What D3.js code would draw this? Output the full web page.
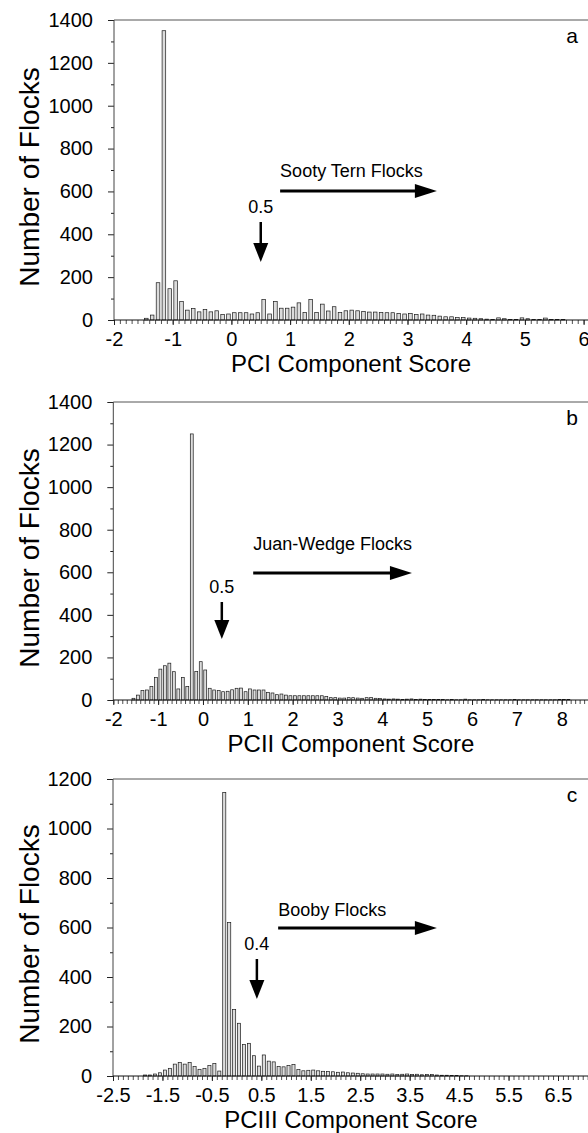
<!DOCTYPE html>
<html>
<head>
<meta charset="utf-8">
<script src="https://cdn.jsdelivr.net/npm/d3@7/dist/d3.min.js"></script>
<style>
  body { margin: 0; background: #fff; }
  svg { display: block; }
</style>
</head>
<body>
<div id="chart"></div>
<script>
// histogram data, bins are 0.1 wide; start = centre of the first bin
const binWidth = 0.1;

const aBinStart = -1.45;
const aCounts = [8, 23, 174, 1350, 146, 183, 86, 46, 54, 38, 49, 38, 43, 26, 28, 34, 34, 34, 28, 34,
    95, 28, 86, 55, 55, 60, 80, 35, 95, 35, 74, 42, 62, 35, 43, 46, 43, 40, 37, 37,
    35, 34, 34, 31, 28, 31, 26, 28, 23, 22, 18, 15, 15, 12, 11, 9, 8, 6, 4, 3,
    10, 6, 3, 3, 10, 6, 3, 3, 9, 3, 2, 2];

const bBinStart = -1.55;
const bCounts = [8, 23, 44, 47, 64, 106, 145, 161, 173, 133, 52, 106, 64, 1250, 134, 180, 141, 55, 47, 44,
    39, 41, 48, 55, 56, 39, 52, 47, 47, 47, 36, 33, 25, 28, 23, 20, 20, 20, 20, 20,
    20, 20, 20, 17, 11, 11, 9, 9, 11, 11, 9, 8, 11, 12, 8, 7, 5, 4, 5, 4,
    3, 4, 5, 3, 4, 3, 3, 2, 2, 2, 1, 2, 1, 1, 4, 1, 1, 1, 2, 1,
    1, 1, 1, 1, 1, 2, 1, 1, 1, 1, 1, 1, 1, 1, 1, 3, 3, 3];

const cBinStart = -1.85;
const cCounts = [4, 4, 8, 13, 24, 31, 48, 54, 48, 54, 38, 27, 31, 42, 50, 20, 1146, 620, 269, 213,
    127, 132, 82, 40, 85, 60, 57, 39, 37, 43, 47, 26, 21, 23, 24, 21, 19, 18, 17, 15,
    16, 13, 12, 11, 9, 8, 8, 8, 8, 7, 8, 6, 7, 8, 6, 7, 5, 6, 6, 4,
    3, 3, 2, 2, 1, 1];

const aXTicks = [-2, -1, 0, 1, 2, 3, 4, 5, 6];
const bXTicks = [-2, -1, 0, 1, 2, 3, 4, 5, 6, 7, 8];
const cXTicks = [-2.5, -1.5, -0.5, 0.5, 1.5, 2.5, 3.5, 4.5, 5.5, 6.5];
const abYTicks = [0, 200, 400, 600, 800, 1000, 1200, 1400];
const cYTicks = [0, 200, 400, 600, 800, 1000, 1200];

const titles = ["PCI Component Score", "PCII Component Score", "PCIII Component Score"];
const groupLabels = ["Sooty Tern Flocks", "Juan-Wedge Flocks", "Booby Flocks"];
const cutLabels = ["0.5", "0.5", "0.4"];
const cutPositions = [0.5, 0.42, 0.41];      // where the down arrows sit
const groupArrows = [[0.83, 3.5], [1.12, 4.66], [0.84, 4.05]];

const W = 588, H = 1133;
const font = "'Liberation Sans', Arial, Helvetica, sans-serif";

const svg = d3.select("#chart").append("svg")
    .attr("width", W)
    .attr("height", H)
    .style("font-family", font);

const panels = [
    {letter: "a", start: aBinStart, counts: aCounts, xDomain: [-2, 6], xRange: [114, 583.6],
     xTicks: aXTicks, yMax: 1400, yTicks: abYTicks, top: 20, bottom: 320, barW: 3.6,
     textY: 177, arrowY: 191, downTop: 222, downTip: 262, yTitle: 177},
    {letter: "b", start: bBinStart, counts: bCounts, xDomain: [-2, 8], xRange: [113.3, 561.7],
     xTicks: bXTicks, yMax: 1400, yTicks: abYTicks, top: 402, bottom: 700, barW: 2.9,
     textY: 550, arrowY: 573, downTop: 602, downTip: 639, yTitle: 558},
    {letter: "c", start: cBinStart, counts: cCounts, xDomain: [-2.5, 6.5], xRange: [113, 558],
     xTicks: cXTicks, yMax: 1200, yTicks: cYTicks, top: 779, bottom: 1076, barW: 3.1,
     textY: 916, arrowY: 928, downTop: 959, downTip: 999, yTitle: 934}
];

panels.forEach(function(p, i) {
    const g = svg.append("g").attr("class", "panel-" + p.letter);
    const x = d3.scaleLinear().domain(p.xDomain).range(p.xRange);
    const y = d3.scaleLinear().domain([0, p.yMax]).range([p.bottom, p.top]);
    const left = p.xRange[0];

    const bins = p.counts.map(function(c, k) {
        return {mid: p.start + k * binWidth, count: c};
    });

    // bars
    g.append("g").selectAll("rect")
        .data(bins.filter(function(d) { return d.count > 0; }))
        .join("rect")
        .attr("x", function(d) { return x(d.mid) - p.barW / 2; })
        .attr("width", p.barW)
        .attr("y", function(d) { return y(d.count); })
        .attr("height", function(d) { return p.bottom - y(d.count); })
        .attr("fill", "#dcdcdc")
        .attr("stroke", "#1a1a1a")
        .attr("stroke-width", 0.7);

    // minor x ticks every 0.1
    const lo = p.xDomain[0];
    const hi = x.invert(W);
    const minor = d3.range(Math.round(lo * 10), Math.floor(hi * 10) + 1).map(function(v) { return v / 10; });
    g.append("g")
        .attr("transform", `translate(0,${p.bottom})`)
        .call(d3.axisBottom(x).tickValues(minor).tickSize(4).tickFormat("").tickSizeOuter(0))
        .call(function(s) { s.select(".domain").remove(); })
        .selectAll("line").attr("stroke", "#222").attr("stroke-width", 0.8);

    // major x ticks + labels (plain hyphen minus like the original)
    const xa = g.append("g")
        .attr("transform", `translate(0,${p.bottom})`)
        .call(d3.axisBottom(x).tickValues(p.xTicks).tickSize(5).tickPadding(7)
            .tickFormat(function(d) { return String(d); }).tickSizeOuter(0));
    xa.select(".domain").remove();
    xa.selectAll("text").attr("font-size", 20).attr("font-family", font).attr("fill", "#000");
    xa.selectAll("line").attr("stroke", "#222");

    // y minor ticks at 100s
    const yMinor = d3.range(100, p.yMax, 200);
    g.append("g")
        .attr("transform", `translate(${left},0)`)
        .call(d3.axisLeft(y).tickValues(yMinor).tickSize(3).tickFormat("").tickSizeOuter(0))
        .call(function(s) { s.select(".domain").remove(); })
        .selectAll("line").attr("stroke", "#222");

    const ya = g.append("g")
        .attr("transform", `translate(${left},0)`)
        .call(d3.axisLeft(y).tickValues(p.yTicks).tickSize(6).tickPadding(15)
            .tickFormat(d3.format("d")).tickSizeOuter(0));
    ya.select(".domain").remove();
    ya.selectAll("text").attr("font-size", 20).attr("font-family", font).attr("fill", "#000");
    ya.selectAll("line").attr("stroke", "#222");

    // frame lines: left axis, bottom axis, top border
    g.append("line").attr("x1", left).attr("x2", left).attr("y1", p.top).attr("y2", p.bottom)
        .attr("stroke", "#444").attr("stroke-width", 1);
    g.append("line").attr("x1", left).attr("x2", W).attr("y1", p.bottom).attr("y2", p.bottom)
        .attr("stroke", "#111").attr("stroke-width", 1);
    g.append("line").attr("x1", left).attr("x2", W).attr("y1", p.top).attr("y2", p.top)
        .attr("stroke", "#555").attr("stroke-width", 1);

    // axis titles
    g.append("text")
        .attr("x", 351)
        .attr("y", p.bottom + 52)
        .attr("text-anchor", "middle")
        .attr("font-size", 24)
        .text(titles[i]);
    g.append("text")
        .attr("transform", `translate(39,${p.yTitle}) rotate(-90)`)
        .attr("text-anchor", "middle")
        .attr("font-size", 28)
        .text("Number of Flocks");

    // panel letter
    g.append("text")
        .attr("x", 572)
        .attr("y", p.top + 23)
        .attr("text-anchor", "middle")
        .attr("font-size", 21)
        .text(p.letter);

    // group label and right arrow
    const ga = groupArrows[i];
    const x0 = x(ga[0]), x1 = x(ga[1]);
    g.append("text")
        .attr("x", x0)
        .attr("y", p.textY)
        .attr("font-size", 18)
        .text(groupLabels[i]);
    g.append("line")
        .attr("x1", x0).attr("x2", x1 - 20)
        .attr("y1", p.arrowY).attr("y2", p.arrowY)
        .attr("stroke", "#000").attr("stroke-width", 3);
    g.append("path")
        .attr("d", `M${x1},${p.arrowY}L${x1 - 22},${p.arrowY - 7}L${x1 - 22},${p.arrowY + 7}Z`)
        .attr("fill", "#000");

    // cut-off value and down arrow
    const cx = x(cutPositions[i]);
    g.append("text")
        .attr("x", cx)
        .attr("y", p.downTop - 9)
        .attr("text-anchor", "middle")
        .attr("font-size", 18)
        .text(cutLabels[i]);
    g.append("line")
        .attr("x1", cx).attr("x2", cx)
        .attr("y1", p.downTop).attr("y2", p.downTip - 17)
        .attr("stroke", "#000").attr("stroke-width", 2.5);
    g.append("path")
        .attr("d", `M${cx},${p.downTip}L${cx - 7.5},${p.downTip - 19}L${cx + 7.5},${p.downTip - 19}Z`)
        .attr("fill", "#000");
});
</script>
</body>
</html>
